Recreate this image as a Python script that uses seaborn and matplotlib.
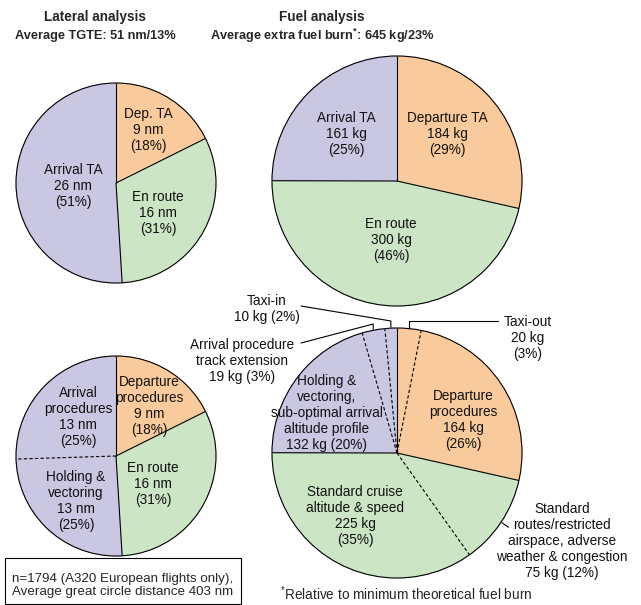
import matplotlib
matplotlib.use("Agg")
import matplotlib.pyplot as plt
from matplotlib.patches import Circle, Rectangle
import numpy as np
import seaborn as sns

sns.set_theme(style="white")
plt.rcParams['font.family'] = ['Liberation Sans', 'DejaVu Sans']

# ---- data ----
lat_labels = ["Dep. TA", "En route", "Arrival TA"]
lat_nm = [9, 16, 26]
lat_pct = [18, 31, 51]
lat_group = ["dep", "enr", "arr"]

fuel_labels = ["Departure TA", "En route", "Arrival TA"]
fuel_kg = [184, 300, 161]
fuel_pct = [29, 46, 25]
fuel_group = ["dep", "enr", "arr"]

lat2_labels = ["Departure\nprocedures", "En route", "Holding &\nvectoring", "Arrival\nprocedures"]
lat2_nm = [9, 16, 13, 13]
lat2_pct = [18, 31, 25, 25]
lat2_group = ["dep", "enr", "arr", "arr"]

fuel2_labels = ["Taxi-out", "Departure\nprocedures",
                "Standard\nroutes/restricted\nairspace, adverse\nweather & congestion",
                "Standard cruise\naltitude & speed",
                "Holding &\nvectoring,\nsub-optimal arrival\naltitude profile",
                "Arrival procedure\ntrack extension", "Taxi-in"]
fuel2_kg = [20, 164, 75, 225, 132, 19, 10]
fuel2_pct = [3, 26, 12, 35, 20, 3, 2]
fuel2_group = ["dep", "dep", "enr", "enr", "arr", "arr", "arr"]
fuel2_inline = [False, False, True, False, True, True, True]

pal = {"dep": "#F9CB9C", "enr": "#CCE5C5", "arr": "#CAC7E3"}

W, H = 641, 605
fig = plt.figure(figsize=(W / 100, H / 100), dpi=100)
ax = fig.add_axes([0, 0, 1, 1])

FS = 9.8
LS = 1.18


def draw_pie(vals, groups, cx, cy, r):
    c = (cx, H - cy)
    wedges, _ = ax.pie(vals, colors=[pal[g] for g in groups], startangle=90,
                       counterclock=False, center=c, radius=r, frame=True,
                       wedgeprops=dict(linewidth=0.6))
    for w in wedges:
        w.set_edgecolor(w.get_facecolor())
    total = float(sum(vals))
    cum = np.concatenate([[0], np.cumsum(vals)[:-1]])
    angles = 90 - 360 * cum / total
    for k, a in enumerate(angles):
        t = np.radians(a)
        ls = (0, (3, 2)) if groups[k] == groups[k - 1] else '-'
        ax.plot([c[0], c[0] + r * np.cos(t)], [c[1], c[1] + r * np.sin(t)],
                color='black', lw=0.8, ls=ls, solid_capstyle='butt')
    ax.add_patch(Circle(c, r, fill=False, ec='black', lw=0.8))
    mids = angles - 180 * np.array(vals) / total
    return c, mids


def label(x, y, s, **kw):
    ax.text(x, H - y, s, ha='center', va='center', fontsize=FS,
            linespacing=LS, color='#111111', **kw)


# top-left: lateral
draw_pie(lat_nm, lat_group, 116, 183, 100)
for (x, y), lab, v, p in zip([(148, 130), (158, 213), (73, 186)], lat_labels, lat_nm, lat_pct):
    label(x, y, f"{lab}\n{v} nm\n({p}%)")

# top-right: fuel
draw_pie(fuel_kg, fuel_group, 397, 181, 125)
for (x, y), lab, v, p in zip([(447, 134), (391, 240), (346, 134)], fuel_labels, fuel_kg, fuel_pct):
    label(x, y, f"{lab}\n{v} kg\n({p}%)")

# bottom-left: lateral breakdown
draw_pie(lat2_nm, lat2_group, 116, 456, 100)
for (x, y), lab, v, p in zip([(149, 406), (153, 484), (76, 501), (78, 417)], lat2_labels, lat2_nm, lat2_pct):
    label(x, y, f"{lab}\n{v} nm\n({p}%)")

# bottom-right: fuel breakdown
c, mids = draw_pie(fuel2_kg, fuel2_group, 397, 453, 125)
pos2 = [(528, 338), (463, 420), (562, 541), (355, 516), (327, 413), (242, 361), (267, 309)]
for (x, y), lab, v, p, inl in zip(pos2, fuel2_labels, fuel2_kg, fuel2_pct, fuel2_inline):
    sep = " " if inl else "\n"
    label(x, y, f"{lab}\n{v} kg{sep}({p}%)")


def edge(k, rr):
    t = np.radians(mids[k])
    return c[0] + rr * np.cos(t), c[1] + rr * np.sin(t)


# leader lines
for k, ey, end in [(0, 321, (498, 321)), (6, 321, (301, 306)), (5, 324, (301, 343))]:
    px, py = edge(k, 126)
    ax.plot([px, px, end[0]], [py, H - ey, H - end[1]], color='black', lw=0.8)
p1, p2 = edge(2, 126), edge(2, 134)
ax.plot([p1[0], p2[0]], [p1[1], p2[1]], color='black', lw=0.8)

# titles
tkw = dict(ha='center', va='center', fontweight='bold')
ax.text(95, H - 17, "Lateral analysis", fontsize=9.8, **tkw)
ax.text(95, H - 36, "Average TGTE: 51 nm/13%", fontsize=9.2, **tkw)
ax.text(322, H - 17, "Fuel analysis", fontsize=9.8, **tkw)
ax.text(322, H - 36, r"Average extra fuel burn$^{\mathregular{*}}$: 645 kg/23%", fontsize=9.2, **tkw)

# notes
ax.add_patch(Rectangle((5, H - 604), 236, 46, fill=False, ec='black', lw=0.8))
ax.text(12, H - 585.5, "n=1794 (A320 European flights only),\nAverage great circle distance 403 nm",
        ha='left', va='center', fontsize=9.6, linespacing=LS)
ax.text(280, H - 594, r"$^{\mathregular{*}}$Relative to minimum theoretical fuel burn",
        ha='left', va='center', fontsize=FS)

ax.set_xlim(0, W)
ax.set_ylim(0, H)
ax.set_aspect('equal')
ax.axis('off')
fig.savefig("out.png", dpi=100)
